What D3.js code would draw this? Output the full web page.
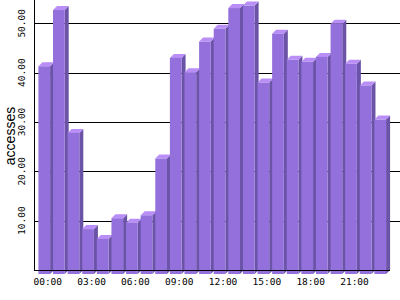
<!DOCTYPE html>
<html>
<head>
<meta charset="utf-8">
<script src="https://cdn.jsdelivr.net/npm/d3@7"></script>
<style>
  body { margin: 0; background: #fff; }
  svg { display: block; }
  .tick-lbl { font-family: "DejaVu Sans Mono", monospace; font-size: 9.5px; fill: #000; }
  .ylab { font-family: "Liberation Sans", Arial, sans-serif; font-size: 14px; fill: #000; }
</style>
</head>
<body>
<svg id="chart" width="400" height="300"></svg>
<script>
// hourly access counts
const hours = ["00","01","02","03","04","05","06","07","08","09","10","11",
               "12","13","14","15","16","17","18","19","20","21","22","23"];
const accesses = [42.1, 53.5, 28.6, 9.1, 7.1, 11.3, 10.4, 11.9, 23.4, 43.8, 40.9, 47.1,
                  49.7, 53.9, 54.4, 38.8, 48.7, 43.4, 43.0, 44.0, 50.7, 42.6, 38.2, 31.3];
const yTicks = [10, 20, 30, 40, 50];
const xLabelHours = ["00","03","06","09","12","15","18","21"];

const svg = d3.select("#chart");
const depth = 4;
const left = 34, right = 390, baseY = 270;

const x = d3.scaleBand().domain(hours).range([35.5, 389])
  .paddingInner(0.2).paddingOuter(0.2);
const y = d3.scaleLinear().domain([0, 50]).range([baseY, 23.3]);

// grid lines
svg.append("g").selectAll("line").data(yTicks).join("line")
  .attr("x1", left).attr("x2", 400)
  .attr("y1", d => Math.round(y(d)) + 0.5).attr("y2", d => Math.round(y(d)) + 0.5)
  .attr("stroke", "#000").attr("stroke-width", 1);

// 3d bars: side, top, then front face
const bw = x.bandwidth();
const bars = svg.append("g").selectAll("g").data(hours).join("g");
bars.each(function(h, i) {
  const g = d3.select(this);
  const x0 = x(h), x1 = x0 + bw;
  const top = y(accesses[i]) + depth, bot = y(0) + depth;
  g.append("polygon")
    .attr("points", [[x1, top], [x1 + depth, top - depth], [x1 + depth, bot - depth], [x1, bot]].join(" "))
    .attr("fill", "#6b54a8");
  g.append("polygon")
    .attr("points", [[x0, top], [x0 + depth, top - depth], [x1 + depth, top - depth], [x1, top]].join(" "))
    .attr("fill", "#b98ef6");
  g.append("rect")
    .attr("x", x0).attr("y", top).attr("width", bw).attr("height", bot - top)
    .attr("fill", "#9370db");
});

// axes
svg.append("line").attr("x1", left + 0.5).attr("x2", left + 0.5).attr("y1", 0).attr("y2", baseY + 0.5)
  .attr("stroke", "#000");
svg.append("line").attr("x1", left).attr("x2", right).attr("y1", baseY + 0.5).attr("y2", baseY + 0.5)
  .attr("stroke", "#000");

// x labels
svg.append("g").selectAll("text").data(xLabelHours).join("text")
  .attr("class", "tick-lbl")
  .attr("x", d => x(d) + bw / 2 + 3.5).attr("y", 285)
  .attr("text-anchor", "middle")
  .text(d => d + ":00");

// y labels
svg.append("g").selectAll("text").data(yTicks).join("text")
  .attr("class", "tick-lbl")
  .attr("transform", d => `translate(25,${y(d)}) rotate(-90)`)
  .attr("text-anchor", "middle")
  .text(d => d.toFixed(2));

svg.append("text").attr("class", "ylab")
  .attr("transform", "translate(15,136) rotate(-90)")
  .attr("text-anchor", "middle")
  .text("accesses");
</script>
</body>
</html>
